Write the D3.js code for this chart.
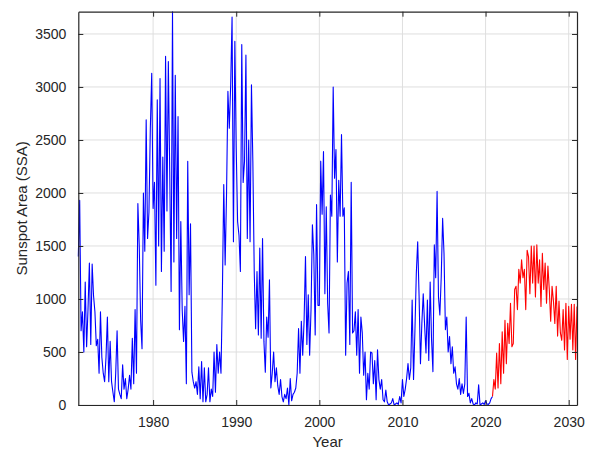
<!DOCTYPE html>
<html>
<head>
<meta charset="utf-8">
<script src="https://cdn.jsdelivr.net/npm/d3@7"></script>
<style>
  body { margin: 0; background: #fff; }
  svg { display: block; font-family: "Liberation Sans", Arial, sans-serif; }
  .grid line { stroke: #dfdfdf; stroke-width: 1; }
  .axis path, .axis line { stroke: #262626; }
  .axis text { fill: #262626; font-size: 14px; }
  .label { fill: #262626; font-size: 15px; }
</style>
</head>
<body>
<div id="chart"></div>
<script>
// observed series: bimonthly samples (6 per year) from 1971.0
const observedStart = 1971;
const observedValues = [
  1400, 1930, 700, 880, 500, 1160,      // 1971
  550, 900, 1340, 570, 1330, 1030,      // 1972
  880, 560, 620, 300, 880, 450,         // 1973
  300, 220, 450, 830, 220, 600,         // 1974
  220, 120, 30, 300, 700, 150,          // 1975
  100, 60, 380, 150, 250, 60,           // 1976
  150, 280, 150, 630, 200, 900,         // 1977
  300, 1900, 1500, 800, 530, 2000,      // 1978
  1450, 2690, 1570, 1820, 2610, 3130,   // 1979
  1855, 2100, 1130, 2880, 1500, 3080,   // 1980
  1260, 2340, 1450, 3290, 1830, 3240,   // 1981
  2200, 1070, 3710, 1350, 3110, 1570,   // 1982
  2720, 710, 1730, 900, 600, 930,       // 1983
  200, 2300, 1040, 1710, 310, 220,      // 1984
  160, 220, 100, 360, 60, 410,          // 1985
  30, 350, 30, 100, 350, 30,            // 1986
  150, 80, 500, 120, 570, 300,          // 1987
  500, 300, 1040, 2080, 1320, 1980,     // 1988
  2960, 2610, 3020, 3660, 1540, 3430,   // 1989
  2420, 1730, 1600, 1260, 3400, 2100,   // 1990
  2300, 3300, 1570, 2500, 1540, 3020,   // 1991
  2300, 1260, 720, 1260, 660, 1480,     // 1992
  630, 1570, 600, 310, 830, 640,        // 1993
  1180, 160, 300, 500, 220, 350,        // 1994
  180, 100, 240, 80, 30, 100,           // 1995
  60, 160, 0, 250, 40, 100,             // 1996
  120, 160, 300, 720, 300, 790,         // 1997
  470, 800, 1400, 570, 1040, 470,       // 1998
  900, 1700, 1420, 660, 1890, 940,      // 1999
  940, 2300, 1800, 2390, 1050, 1870,    // 2000
  960, 680, 1980, 1780, 3000, 2140,     // 2001
  2410, 1350, 2120, 1780, 2550, 1780,   // 2002
  1860, 470, 1150, 1260, 570, 2100,     // 2003
  680, 700, 880, 470, 900, 300,         // 2004
  830, 680, 280, 500, 50, 300,          // 2005
  150, 500, 490, 200, 420, 50,          // 2006
  520, 240, 150, 240, 50, 30,           // 2007
  140, 30, 0, 10, 20, 60,               // 2008
  0, 10, 20, 5, 80, 20,                 // 2009
  240, 80, 150, 250, 390, 240,          // 2010
  350, 990, 240, 700, 1240, 1540,       // 2011
  1030, 390, 770, 1050, 750, 490,       // 2012
  990, 420, 1160, 620, 315, 1510,       // 2013
  1200, 2015, 1020, 850, 1210, 1760,    // 2014
  1430, 710, 830, 500, 645, 390,        // 2015
  550, 300, 360, 200, 150, 250,         // 2016
  100, 200, 110, 200, 830, 80,          // 2017
  110, 20, 60, 10, 0, 20,               // 2018
  10, 190, 0, 10, 20, 5,                // 2019
  40, 10, 5, 20, 60, 80                 // 2020
];

// predicted series: bimonthly samples from 2020 + 5/6
const predictedStart = 2020 + 5 / 6;
const predictedValues = [
  80,                                   // 2020.83
  240, 150, 490, 160, 580, 200,         // 2021
  690, 300, 800, 390, 770, 580,         // 2022
  960, 550, 580, 1090, 1120, 900,       // 2023
  1280, 1150, 1370, 1200, 1280, 900,    // 2024
  1460, 1400, 1050, 1500, 1150, 1500,   // 2025
  1020, 1510, 1150, 1370, 930, 1430,    // 2026
  1090, 1340, 960, 1310, 1090, 790,     // 2027
  1120, 980, 770, 1120, 650, 980,       // 2028
  680, 610, 900, 520, 960, 430,         // 2029
  930, 620, 950, 520, 950, 430,         // 2030
  930                                   // 2031.0
];
const sampleStep = 1 / 6;

const xTicks = [1980, 1990, 2000, 2010, 2020, 2030];
const yTicks = [0, 500, 1000, 1500, 2000, 2500, 3000, 3500];

const width = 598, height = 452;
const margin = {top: 11.7, right: 21, bottom: 47, left: 78.3};

const svg = d3.select("#chart").append("svg")
    .attr("width", width)
    .attr("height", height);

const x = d3.scaleLinear().domain([1971, 2031]).range([margin.left, width - margin.right]);
const y = d3.scaleLinear().domain([0, 3710]).range([height - margin.bottom, margin.top]);

const observed = observedValues.map((v, i) => ({t: observedStart + i * sampleStep, v: v}));
const predicted = predictedValues.map((v, i) => ({t: predictedStart + i * sampleStep, v: v}));

// grid
svg.append("g").attr("class", "grid")
    .selectAll("line.gx").data(xTicks).join("line")
    .attr("x1", d => x(d)).attr("x2", d => x(d))
    .attr("y1", y.range()[0]).attr("y2", y.range()[1]);
svg.append("g").attr("class", "grid")
    .selectAll("line.gy").data(yTicks).join("line")
    .attr("x1", x.range()[0]).attr("x2", x.range()[1])
    .attr("y1", d => y(d)).attr("y2", d => y(d));

// series
const line = d3.line().x(d => x(d.t)).y(d => y(d.v));
svg.append("path").datum(observed)
    .attr("fill", "none").attr("stroke", "#0000ff").attr("stroke-width", 1.1)
    .attr("stroke-linejoin", "round")
    .attr("d", line);
svg.append("path").datum(predicted)
    .attr("fill", "none").attr("stroke", "#ff0000").attr("stroke-width", 1.1)
    .attr("stroke-linejoin", "round")
    .attr("d", line);

// axes (MATLAB box style, ticks pointing inward)
const plotH = y.range()[0] - y.range()[1];
const plotW = x.range()[1] - x.range()[0];

svg.append("g").attr("class", "axis")
    .attr("transform", `translate(0,${y.range()[0]})`)
    .call(d3.axisBottom(x).tickValues(xTicks).tickFormat(d3.format("d"))
        .tickSizeInner(-5).tickSizeOuter(0).tickPadding(12));
svg.append("g").attr("class", "axis")
    .attr("transform", `translate(0,${y.range()[1]})`)
    .call(d3.axisTop(x).tickValues(xTicks).tickFormat("")
        .tickSizeInner(-5).tickSizeOuter(0));
svg.append("g").attr("class", "axis")
    .attr("transform", `translate(${x.range()[0]},0)`)
    .call(d3.axisLeft(y).tickValues(yTicks).tickFormat(d3.format("d"))
        .tickSizeInner(-5).tickSizeOuter(0).tickPadding(12));
svg.append("g").attr("class", "axis")
    .attr("transform", `translate(${x.range()[1]},0)`)
    .call(d3.axisRight(y).tickValues(yTicks).tickFormat("")
        .tickSizeInner(-5).tickSizeOuter(0));

svg.selectAll(".axis .domain").attr("stroke-width", 1.2);

// axis titles
svg.append("text").attr("class", "label")
    .attr("x", x.range()[0] + plotW / 2)
    .attr("y", 447)
    .attr("text-anchor", "middle")
    .text("Year");
svg.append("text").attr("class", "label")
    .attr("transform", `translate(27,${y.range()[1] + plotH / 2}) rotate(-90)`)
    .attr("text-anchor", "middle")
    .text("Sunspot Area (SSA)");
</script>
</body>
</html>
